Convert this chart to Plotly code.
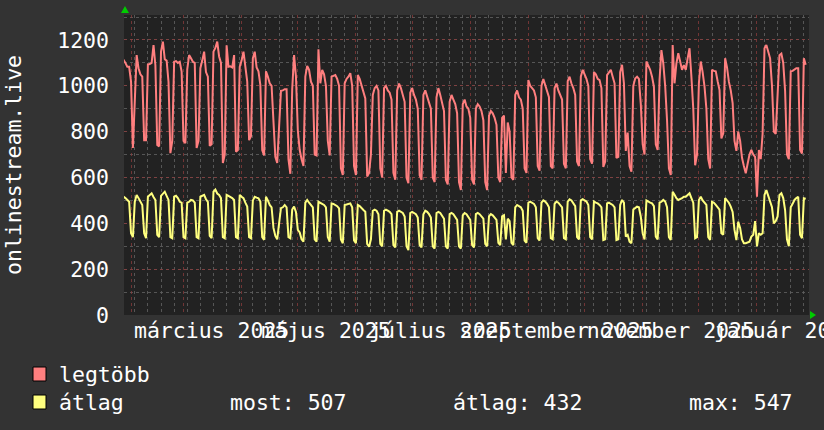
import pandas as pd
import plotly.graph_objects as go

# ---------------- data (daily, starting Monday 2025-01-27) ----------------
start_date = "2025-01-27"

legtobb = [
    1110, 1113, 1100, 1083, 1083, 1018, 729,
    900, 1134, 1077, 1050, 1040, 763, 763,
    1093, 1095, 1100, 1178, 1090, 742, 736,
    1149, 1193, 1116, 1110, 1018, 706, 760,
    1105, 1108, 1100, 1105, 1062, 760, 750,
    1072, 1134, 1120, 1105, 1100, 729, 760,
    1077, 1110, 1149, 1060, 1040, 738, 745,
    1149, 1165, 1193, 1128, 1100, 663, 700,
    1177, 1083, 1085, 1080, 1134, 712, 720,
    1083, 1110, 1149, 1090, 1018, 763, 780,
    1120, 1149, 1080, 1063, 1004, 720, 696,
    1063, 1040, 1011, 1000, 851, 690, 663,
    800, 978, 980, 985, 985, 680, 616,
    985, 1134, 1040, 805, 720, 680, 650,
    1040, 1087, 1070, 1018, 1000, 700, 696,
    1159, 1011, 1070, 1050, 1000, 760, 696,
    1040, 1045, 1047, 1030, 1000, 640, 611,
    1011, 1030, 1040, 1055, 1000, 650, 611,
    1047, 1030, 1000, 980, 945, 604, 620,
    700, 960, 990, 1000, 980, 640, 600,
    990, 1000, 980, 970, 940, 620, 590,
    980, 1010, 990, 960, 930, 600, 575,
    970, 990, 960, 940, 900, 610, 590,
    960, 980, 950, 930, 900, 600, 580,
    950, 990, 960, 930, 890, 590, 570,
    930, 960, 940, 920, 880, 580, 545,
    920, 940, 910, 900, 860, 590, 570,
    900, 920, 910, 890, 850, 580, 545,
    870, 890, 880, 860, 830, 600, 580,
    860, 870, 620, 840, 800, 600, 590,
    960, 980, 950, 940, 900, 640, 620,
    1025, 1000, 990, 980, 950, 650, 630,
    1000, 1030, 1000, 980, 950, 650, 640,
    990, 1010, 980, 960, 940, 660, 640,
    1020, 1040, 1010, 990, 960, 670, 650,
    1040, 1070, 1050, 1030, 1000, 680, 660,
    1060, 1050, 1030, 1025, 990, 646, 670,
    1047, 1060, 1070, 1040, 1011, 685, 690,
    1060, 1092, 1011, 716, 796, 650, 625,
    1000, 1032, 1040, 1030, 920, 745, 700,
    1106, 1090, 1070, 1040, 996, 745, 720,
    1025, 1156, 1098, 1000, 851, 640, 611,
    1178, 1011, 1098, 1142, 1100, 1070, 1090,
    1070, 1120, 1164, 1040, 900, 653, 700,
    1011, 1106, 1060, 996, 900, 680, 639,
    1070, 1065, 1063, 1020, 982, 770, 793,
    1120, 1080, 1018, 980, 925, 760, 716,
    800, 760, 686, 650, 618, 660, 700,
    720, 700, 690, 516, 720, 680, 791,
    1164, 1178, 1150, 1120, 1000, 800, 790,
    1000, 1134, 1141, 1100, 978, 700, 680,
    1063, 1065, 1070, 1077, 1077, 720, 705,
    1120, 1092,
]

atlag = [
    510, 516, 510, 500, 494, 357, 340,
    494, 524, 510, 494, 480, 357, 335,
    516, 525, 531, 515, 502, 350, 340,
    520, 531, 538, 520, 502, 340, 335,
    516, 520, 510, 494, 490, 340, 335,
    490, 494, 502, 500, 490, 340, 335,
    516, 520, 524, 505, 494, 345, 335,
    538, 547, 530, 524, 510, 340, 335,
    524, 520, 516, 510, 502, 340, 335,
    524, 516, 510, 490, 473, 340, 335,
    500, 516, 512, 509, 495, 340, 328,
    516, 500, 480, 470, 380, 345, 330,
    400, 466, 470, 480, 470, 340, 335,
    460, 473, 450, 371, 360, 330, 320,
    490, 502, 490, 480, 470, 330, 320,
    494, 490, 485, 480, 470, 340, 320,
    487, 485, 480, 475, 465, 330, 313,
    480, 482, 485, 487, 470, 325, 313,
    480, 475, 465, 458, 451, 310, 298,
    330, 455, 460, 455, 440, 310, 300,
    455, 460, 455, 450, 440, 305, 295,
    450, 455, 450, 445, 430, 300, 283,
    445, 450, 445, 440, 425, 305, 295,
    440, 455, 450, 440, 425, 300, 290,
    445, 450, 445, 435, 420, 300, 290,
    440, 445, 440, 430, 415, 300, 290,
    435, 445, 440, 430, 415, 305, 295,
    440, 445, 440, 430, 420, 310, 300,
    430, 440, 435, 425, 415, 315, 305,
    430, 435, 330, 420, 410, 315, 305,
    470, 480, 475, 470, 455, 325, 315,
    490, 495, 490, 485, 470, 335, 325,
    490, 500, 495, 485, 470, 335, 330,
    485, 495, 490, 480, 470, 335, 330,
    495, 505, 500, 490, 475, 340, 330,
    500, 505, 500, 495, 480, 340, 330,
    495, 490, 487, 480, 470, 327, 330,
    487, 490, 485, 480, 470, 327, 330,
    480, 502, 490, 342, 350, 320, 313,
    460, 465, 473, 470, 429, 357, 330,
    500, 494, 490, 487, 475, 342, 330,
    490, 494, 502, 495, 470, 340, 327,
    538, 525, 510, 502, 505, 510, 516,
    516, 524, 531, 510, 490, 335, 340,
    502, 516, 500, 490, 480, 340, 327,
    494, 490, 480, 470, 460, 357, 350,
    510, 502, 490, 473, 450, 371, 327,
    407, 380, 330, 313, 313, 315, 320,
    342, 350, 410, 299, 357, 350, 357,
    524, 545, 520, 494, 470, 400, 410,
    430, 524, 531, 510, 458, 330, 300,
    470, 485, 502, 510, 516, 350, 335,
    509, 507,
]

series_names = ["legtöbb", "átlag"]
x_label_dates = ["2025-03-16", "2025-05-16", "2025-07-16",
                 "2025-09-16", "2025-11-16", "2026-01-16"]
x_label_text = ["március 2025", "május 2025", "július 2025",
                "szeptember 2025", "november 2025", "január 2026"]
y_tick_vals = [0, 200, 400, 600, 800, 1000, 1200]
y_tick_text = ["0", "200", "400", "600", "800", "1000", "1200"]
y_title = "onlinestream.live"
legend_stats = ["most: 507", "átlag: 432", "max: 547"]

dates = pd.date_range(start_date, periods=len(legtobb), freq="D")

# ---------------- style ----------------
FONT = "DejaVu Sans Mono"
FS = 21.5
TXT = "#ffffff"
RED = "#ff7f7f"
YEL = "#ffff7f"
MAJOR_GRID = "rgba(140,60,60,0.75)"
MINOR_GRID = "rgba(95,95,95,0.85)"
x_range = ["2025-01-28 06:00", "2026-01-28 18:00"]

W, H = 824, 430
L, R, T, B = 124, 15, 15, 115
PW, PH = W - L - R, H - T - B


def px(x):
    return (x - L) / PW


def py(y):
    return (H - B - y) / PH


fig = go.Figure()
fig.add_trace(go.Scatter(x=dates, y=legtobb, mode="lines", name=series_names[0],
                         line=dict(color=RED, width=2), xaxis="x2"))
fig.add_trace(go.Scatter(x=dates, y=atlag, mode="lines", name=series_names[1],
                         line=dict(color=YEL, width=2)))

fig.update_layout(
    width=W, height=H, autosize=False,
    margin=dict(l=L, r=R, t=T, b=B, pad=0),
    paper_bgcolor="#333333", plot_bgcolor="#222222",
    showlegend=False,
    font=dict(family=FONT, size=FS, color=TXT),
    xaxis=dict(
        type="date", range=x_range, showticklabels=False, ticks="",
        tick0="2025-02-01", dtick="M1",
        showgrid=True, gridcolor=MAJOR_GRID, griddash="dot", gridwidth=1,
        minor=dict(tick0="2025-02-03", dtick=7 * 86400000, showgrid=True,
                   gridcolor=MINOR_GRID, griddash="dot", gridwidth=1, ticks=""),
        zeroline=False, showline=False, automargin=False,
    ),
    xaxis2=dict(
        type="date", range=x_range, overlaying="x", side="bottom", anchor="y",
        tickmode="array", tickvals=x_label_dates, ticktext=x_label_text,
        tickangle=0, ticklabeloverflow="allow",
        showgrid=False, ticks="", zeroline=False, showline=False,
        tickfont=dict(family=FONT, size=FS, color=TXT), ticklabelstandoff=0,
        automargin=False,
    ),
    yaxis=dict(
        range=[0, 1309], tickmode="array", tickvals=y_tick_vals, ticktext=y_tick_text,
        showgrid=True, gridcolor=MAJOR_GRID, griddash="dot", gridwidth=1,
        minor=dict(tickmode="linear", tick0=0, dtick=100, showgrid=True,
                   gridcolor=MINOR_GRID, griddash="dot", gridwidth=1, ticks=""),
        ticks="", zeroline=False, showline=False,
        tickfont=dict(family=FONT, size=FS, color=TXT), ticklabelstandoff=14,
        automargin=False,
    ),
)

ann = [
    dict(text=y_title, x=px(13), y=0.5, xref="paper", yref="paper", textangle=-90,
         showarrow=False, xanchor="center", yanchor="middle",
         font=dict(family=FONT, size=FS, color=TXT)),
    dict(text=series_names[0], x=px(57), y=py(374), xref="paper", yref="paper",
         showarrow=False, xanchor="left", yanchor="middle",
         font=dict(family=FONT, size=FS, color=TXT)),
    dict(text=series_names[1], x=px(57), y=py(402), xref="paper", yref="paper",
         showarrow=False, xanchor="left", yanchor="middle",
         font=dict(family=FONT, size=FS, color=TXT)),
]
for txt, xpix in zip(legend_stats, [228, 451, 687]):
    ann.append(dict(text=txt, x=px(xpix), y=py(402), xref="paper", yref="paper",
                    showarrow=False, xanchor="left", yanchor="middle",
                    font=dict(family=FONT, size=FS, color=TXT)))
fig.update_layout(annotations=ann)

shapes = [
    dict(type="rect", xref="paper", yref="paper", x0=px(33), x1=px(46),
         y0=py(381), y1=py(367), fillcolor=RED, line=dict(color="#000000", width=1)),
    dict(type="rect", xref="paper", yref="paper", x0=px(33), x1=px(46),
         y0=py(409), y1=py(395), fillcolor=YEL, line=dict(color="#000000", width=1)),
    # axis arrows
    dict(type="path", xref="paper", yref="paper",
         path=f"M {px(121)},{py(13)} L {px(129)},{py(13)} L {px(125)},{py(6)} Z",
         fillcolor="#00cc00", line=dict(width=0)),
    dict(type="path", xref="paper", yref="paper",
         path=f"M {px(810)},{py(311)} L {px(810)},{py(319)} L {px(816)},{py(315)} Z",
         fillcolor="#00cc00", line=dict(width=0)),
]
fig.update_layout(shapes=shapes)

fig.write_html(
    "out.html",
    config={"displayModeBar": False},
    post_script="document.body.style.margin='0';"
                "document.body.style.background='#333333';",
)
